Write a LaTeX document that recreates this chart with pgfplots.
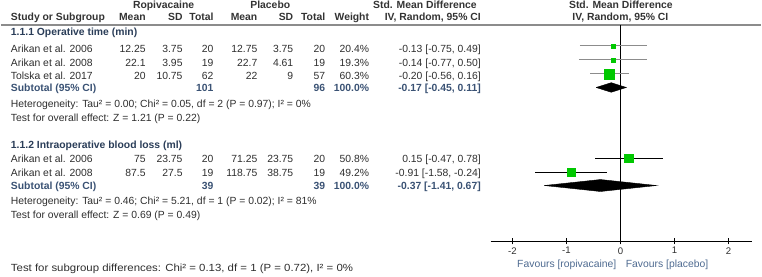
\documentclass[border=0pt]{standalone}
\usepackage{pgfplots}
\pgfplotsset{compat=1.18}
\usepackage{fontspec}
\setmainfont{Liberation Sans}
\definecolor{hdr}{HTML}{333333}
\definecolor{txt}{HTML}{2E2E2E}
\definecolor{grpc}{HTML}{2A3D58}
\definecolor{subc}{HTML}{3A5274}
\definecolor{favc}{HTML}{4E6A90}
\definecolor{mk}{HTML}{00C800}
\definecolor{rule}{HTML}{8C8C8C}
\newcommand{\fs}{\fontsize{10.4}{12}\selectfont}
% row: baseline, name, m1, sd1, n1, m2, sd2, n2, weight
\newcommand{\row}[9]{%
  \node[anchor=base west] at (10,-#1) {#2};
  \node[anchor=base east] at (145,-#1) {#3};
  \node[anchor=base east] at (182,-#1) {#4};
  \node[anchor=base east] at (213,-#1) {#5};
  \node[anchor=base east] at (257,-#1) {#6};
  \node[anchor=base east] at (293,-#1) {#7};
  \node[anchor=base east] at (325,-#1) {#8};
  \node[anchor=base east] at (369,-#1) {#9};
}
\begin{document}
\begin{tikzpicture}[x=1pt,y=1pt,every node/.style={inner sep=0pt,outer sep=0pt,font=\fs,text=txt}]
\path (0,0) rectangle (762,-277);
% header
\draw[rule,line width=2pt] (0,-25) -- (762,-25);
\begin{scope}[every node/.append style={font=\fs\bfseries,text=hdr}]
\node[anchor=base] at (163,-8.7) {Ropivacaine};
\node[anchor=base] at (270,-8.7) {Placebo};
\node[anchor=base east] at (477,-8.7) {Std. Mean Difference};
\node[anchor=base] at (621.5,-8.7) {Std. Mean Difference};
\row{21}{Study or Subgroup}{Mean}{SD}{Total}{Mean}{SD}{Total}{Weight}
\node[anchor=base east] at (481,-21) {IV, Random, 95\% CI};
\node[anchor=base] at (621,-21) {IV, Random, 95\% CI};
\end{scope}
% group 1
\node[anchor=base west,font=\fs\bfseries,text=grpc] at (10,-36) {1.1.1 Operative time (min)};
\row{52.3}{Arikan et al. 2006}{12.25}{3.75}{20}{12.75}{3.75}{20}{20.4\%}
\node[anchor=base east] at (481,-52.3) {-0.13 [-0.75, 0.49]};
\row{66.3}{Arikan et al. 2008}{22.1}{3.95}{19}{22.7}{4.61}{19}{19.3\%}
\node[anchor=base east] at (481,-66.3) {-0.14 [-0.77, 0.50]};
\row{80}{Tolska et al. 2017}{20}{10.75}{62}{22}{9}{57}{60.3\%}
\node[anchor=base east] at (481,-80) {-0.20 [-0.56, 0.16]};
\begin{scope}[every node/.append style={font=\fs\bfseries,text=subc}]
\row{92}{Subtotal (95\% CI)}{}{}{101}{}{}{96}{100.0\%}
\node[anchor=base east] at (481,-92) {-0.17 [-0.45, 0.11]};
\end{scope}
\node[anchor=base west] at (10,-107.5) {Heterogeneity: Tau² = 0.00; Chi² = 0.05, df = 2 (P = 0.97); I² = 0\%};
\node[anchor=base west] at (10,-121.7) {Test for overall effect: Z = 1.21 (P = 0.22)};
% group 2
\node[anchor=base west,font=\fs\bfseries,text=grpc] at (10,-148.7) {1.1.2 Intraoperative blood loss (ml)};
\row{162.7}{Arikan et al. 2006}{75}{23.75}{20}{71.25}{23.75}{20}{50.8\%}
\node[anchor=base east] at (481,-162.7) {0.15 [-0.47, 0.78]};
\row{176.7}{Arikan et al. 2008}{87.5}{27.5}{19}{118.75}{38.75}{19}{49.2\%}
\node[anchor=base east] at (481,-176.7) {-0.91 [-1.58, -0.24]};
\begin{scope}[every node/.append style={font=\fs\bfseries,text=subc}]
\row{189.5}{Subtotal (95\% CI)}{}{}{39}{}{}{39}{100.0\%}
\node[anchor=base east] at (481,-189.5) {-0.37 [-1.41, 0.67]};
\end{scope}
\node[anchor=base west] at (10,-205.3) {Heterogeneity: Tau² = 0.46; Chi² = 5.21, df = 1 (P = 0.02); I² = 81\%};
\node[anchor=base west] at (10,-219) {Test for overall effect: Z = 0.69 (P = 0.49)};
\node[anchor=base west,xscale=1.1,transform shape] at (10,-272.3) {Test for subgroup differences: Chi² = 0.13, df = 1 (P = 0.72), I² = 0\%};
\node[anchor=base east,text=favc] at (617,-268) {Favours [ropivacaine]};
\node[anchor=base west,text=favc] at (626.5,-268) {Favours [placebo]};
% forest plot
\begin{axis}[
  at={(491pt,-242pt)}, anchor=south west,
  scale only axis, width=261.7pt, height=217pt,
  xmin=-2.4, xmax=2.43, ymin=-242, ymax=-25,
  axis x line=bottom, axis y line=none,
  x axis line style={-, black, line width=0.8pt},
  xtick={-2,-1,0,1,2}, xticklabels={-2,-1,0,1,2},
  tick align=center, major tick length=6pt,
  xtick style={black, line width=0.8pt},
  xticklabel style={font=\fontsize{9.6}{10}\selectfont, text=txt, yshift=-3pt},
  clip=false,
]
\addplot[black, line width=0.8pt] coordinates {(0,-25) (0,-242)};
% group 1 CIs
\addplot[rule, line width=1pt] coordinates {(-0.75,-46) (0.49,-46)};
\addplot[rule, line width=1pt] coordinates {(-0.77,-60) (0.50,-60)};
\addplot[rule, line width=1pt] coordinates {(-0.56,-74) (0.16,-74)};
\addplot[only marks, mark=square*, mark size=2.1pt, mk, mark options={draw=mk, fill=mk}] coordinates {(-0.13,-46)};
\addplot[only marks, mark=square*, mark size=2.0pt, mk, mark options={draw=mk, fill=mk}] coordinates {(-0.14,-60)};
\addplot[only marks, mark=square*, mark size=5.0pt, mk, mark options={draw=mk, fill=mk}] coordinates {(-0.20,-74)};
\addplot[fill=black, draw=black] coordinates {(-0.45,-87.7) (-0.17,-82.9) (0.11,-87.7) (-0.17,-92.5) (-0.45,-87.7)};
% group 2 CIs
\addplot[black, line width=1pt] coordinates {(-0.47,-158.7) (0.78,-158.7)};
\addplot[black, line width=1pt] coordinates {(-1.58,-172.7) (-0.24,-172.7)};
\addplot[only marks, mark=square*, mark size=4.4pt, mk, mark options={draw=mk, fill=mk}] coordinates {(0.15,-158.7)};
\addplot[only marks, mark=square*, mark size=4.3pt, mk, mark options={draw=mk, fill=mk}] coordinates {(-0.91,-172.7)};
\addplot[fill=black, draw=black] coordinates {(-1.41,-186) (-0.37,-180) (0.67,-186) (-0.37,-192) (-1.41,-186)};
\end{axis}
\end{tikzpicture}
\end{document}
